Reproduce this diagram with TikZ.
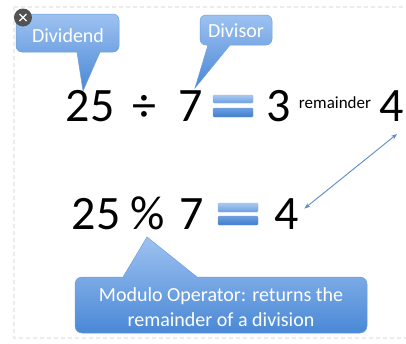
\documentclass[tikz,border=0pt]{standalone}
\usepackage{fontspec}
\setmainfont{Carlito}
\usetikzlibrary{arrows.meta}
\definecolor{calloutTop}{HTML}{9DC2F1}
\definecolor{calloutBot}{HTML}{4A88D6}
\definecolor{calloutEdge}{HTML}{6E9EDB}
\definecolor{barLight}{HTML}{A9C9F2}
\definecolor{barMid}{HTML}{6C9FE2}
\definecolor{barDark}{HTML}{3F7ECF}
\definecolor{arrowBlue}{HTML}{5B8CC8}
\tikzset{
  big/.style={font=\fontsize{48}{48}\selectfont, inner sep=0pt, anchor=base},
  small/.style={font=\fontsize{17}{17}\selectfont, inner sep=0pt, anchor=base},
  ctext/.style={font=\fontsize{20}{25}\selectfont, text=white, inner sep=0pt, anchor=base, align=center},
  callout/.style={top color=calloutTop, bottom color=calloutBot, draw=calloutEdge, line width=0.5pt},
  topbar/.style={top color=barLight, bottom color=barMid, draw=barMid!80!black!60, line width=0.3pt},
  botbar/.style={top color=barMid, bottom color=barDark, draw=barDark!70!black!60, line width=0.3pt},
}
\begin{document}
\begin{tikzpicture}[x=1pt,y=-1pt]
\useasboundingbox (0,0) rectangle (406,343);
\fill[white] (0,0) rectangle (406,343);
\draw[gray!15, line width=1.5pt, dash pattern=on 4pt off 3pt] (14,7) -- (410,7);
\draw[gray!15, line width=1.5pt, dash pattern=on 4pt off 3pt] (14,7) -- (14,338) -- (410,338);

% Dividend callout
\shade[callout] (16,33) [rounded corners=6pt] -- (16,14) -- (119,14) -- (119,52) [sharp corners] -- (100,52) -- (83,91) -- (77,52) [rounded corners=6pt] -- (16,52) -- cycle;
\node[ctext] (dividend) at (68,42) {Dividend};

% Divisor callout
\shade[callout] (200,30) [rounded corners=6pt] -- (200,15) -- (272,15) -- (272,45) [sharp corners] -- (230,45) -- (195,88) -- (208,45) [rounded corners=6pt] -- (200,45) -- cycle;
\node[ctext] (divisor) at (236,37) {Divisor};

% close button
\fill[black!68] (23,17.5) circle (9);
\draw[white, line width=1.1pt] (19.5,14) -- (26.5,21) (26.5,14) -- (19.5,21);

% top equation
\node[big] (t25) at (90,121) {25};
\node[big] (tdiv) at (144,121) {÷};
\node[big] (t7) at (191,121) {7};
\shade[topbar, rounded corners=1pt] (213,95) rectangle (253,103);
\shade[botbar, rounded corners=1pt] (213,108) rectangle (253,117);
\node[big] (t3) at (279,121) {3};
\node[small] (trem) at (335,108) {remainder};
\node[big] (t4) at (392,121) {4};

% bottom equation
\node[big] (b25) at (96,229) {25};
\node[big] (bmod) at (148,229) {\%};
\node[big] (b7) at (192,229) {7};
\shade[topbar, rounded corners=1pt] (218,203) rectangle (258,212);
\shade[botbar, rounded corners=1pt] (218,216) rectangle (258,225);
\node[big] (b4) at (287,229) {4};

% arrow between remainders
\draw[arrowBlue, line width=0.9pt, {Stealth[length=6pt,width=4.5pt]}-{Stealth[length=6pt,width=4.5pt]}]
  ([shift={(5,13)}]t4.base) -- ([shift={(5,-5)}]b4.east);

% modulo callout
\shade[callout] (75,305) [rounded corners=7pt] -- (75,277) [sharp corners] -- (123,277) -- (147,237) -- (197,277) [rounded corners=7pt] -- (367,277) -- (367,333) -- (75,333) -- cycle;
\node[ctext] (modtext) at (221,326) {Modulo Operator: returns the\\remainder of a division};
\end{tikzpicture}
\end{document}
